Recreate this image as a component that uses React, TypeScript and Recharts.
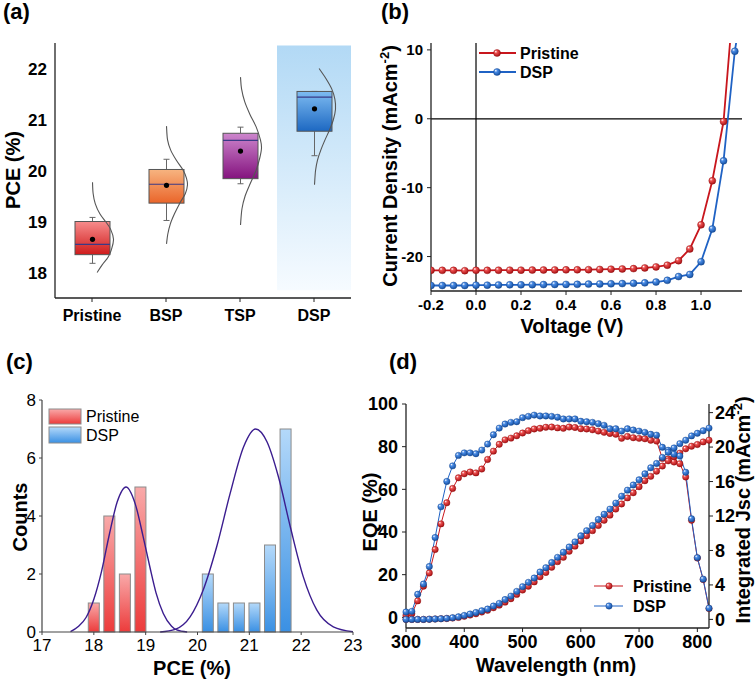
import React from "react";
import {
  Bar,
  ComposedChart,
  Line,
  LineChart,
  ReferenceArea,
  ReferenceLine,
  XAxis,
  YAxis,
} from "recharts";

const FONT = '"Liberation Sans", Arial, Helvetica, sans-serif';
const RED = "#c8161d";
const BLUE = "#1f62c4";

// ---------- (a) PCE statistics ----------
const groups = ["Pristine", "BSP", "TSP", "DSP"];
const boxLow = [18.35, 19.36, 19.84, 20.77];
const boxHigh = [19.0, 20.02, 20.73, 21.55];
const medians = [18.55, 19.73, 20.59, 21.44];
const means = [18.65, 19.71, 20.38, 21.21];
const whiskerLow = [18.18, 19.02, 19.74, 20.29];
const whiskerHigh = [19.08, 20.22, 20.85, 21.55];
// [PCE, relative density] of the distribution curve beside each box
const curvePristine = [[19.77, 0], [19.55, 0.03], [19.35, 0.13], [19.15, 0.35], [19.0, 0.62], [18.85, 0.86], [18.65, 1], [18.45, 0.9], [18.3, 0.74], [18.15, 0.46], [18.0, 0.22]];
const curveBsp = [[20.87, 0], [20.6, 0.05], [20.4, 0.2], [20.2, 0.47], [20.0, 0.8], [19.85, 0.95], [19.72, 1], [19.55, 0.9], [19.35, 0.62], [19.15, 0.38], [18.95, 0.18], [18.75, 0.06], [18.56, 0]];
const curveTsp = [[21.83, 0], [21.6, 0.05], [21.35, 0.2], [21.1, 0.45], [20.85, 0.75], [20.6, 0.95], [20.44, 1], [20.25, 0.92], [20.0, 0.74], [19.75, 0.47], [19.5, 0.22], [19.25, 0.07], [18.93, 0]];
const curveDsp = [[22.0, 0.22], [21.8, 0.55], [21.6, 0.82], [21.4, 0.97], [21.2, 1], [21.0, 0.9], [20.8, 0.72], [20.6, 0.5], [20.4, 0.3], [20.2, 0.14], [20.0, 0.05], [19.72, 0]];
const curves = [curvePristine, curveBsp, curveTsp, curveDsp];
const boxFills = ["url(#boxPristine)", "url(#boxBsp)", "url(#boxTsp)", "url(#boxDsp)"];

const boxRows = groups.map((name, i) => {
  const vals = [boxLow[i], boxHigh[i], whiskerLow[i], whiskerHigh[i], ...curves[i].map((c) => c[0])];
  return { name, i, range: [Math.min(...vals), Math.max(...vals)] };
});

// ---------- (b) J-V ----------
const voltage = [-0.2, -0.15, -0.1, -0.05, 0, 0.05, 0.1, 0.15, 0.2, 0.25, 0.3, 0.35, 0.4, 0.45, 0.5, 0.55, 0.6, 0.65, 0.7, 0.75, 0.8, 0.85, 0.9, 0.95, 1.0, 1.05, 1.1, 1.15];
const voltageDsp = [...voltage, 1.2];
const jPristine = [-22.0, -22.0, -22.0, -22.05, -22.0, -22.0, -21.98, -21.97, -21.97, -21.96, -21.95, -21.94, -21.93, -21.92, -21.9, -21.87, -21.83, -21.8, -21.75, -21.65, -21.5, -21.25, -20.6, -18.9, -15.4, -9.0, -0.4, 19.5];
const jDsp = [-24.2, -24.2, -24.2, -24.2, -24.15, -24.15, -24.12, -24.1, -24.1, -24.08, -24.07, -24.05, -24.04, -24.03, -24.0, -23.98, -23.95, -23.92, -23.88, -23.82, -23.7, -23.45, -22.9, -22.6, -20.75, -16.0, -6.1, 9.8, 20];

const jvPristine = voltage.map((v, i) => ({ v, j: jPristine[i] }));
const jvDsp = voltageDsp.map((v, i) => ({ v, j: jDsp[i] }));

// ---------- (c) PCE histogram ----------
const pristineBins = [18.0, 18.3, 18.6, 18.9];
const pristineCounts = [1, 4, 2, 5];
const dspBins = [20.2, 20.5, 20.8, 21.1, 21.4, 21.7];
const dspCounts = [2, 1, 1, 1, 3, 7];
const pristineFitX = [17.55, 17.7, 17.85, 18.0, 18.15, 18.3, 18.45, 18.62, 18.8, 18.95, 19.08, 19.2, 19.34, 19.5, 19.6, 19.8];
const pristineFitY = [0.01, 0.19, 0.5, 1.13, 2.1, 3.37, 4.48, 5.0, 4.41, 3.3, 2.25, 1.35, 0.64, 0.2, 0.07, 0.0];
const dspFitX = [19.28, 19.57, 19.86, 20.11, 20.37, 20.63, 20.89, 21.12, 21.34, 21.56, 21.79, 22.04, 22.3, 22.62, 23.0];
const dspFitY = [0, 0.09, 0.53, 1.45, 2.94, 4.78, 6.39, 7.0, 6.56, 5.36, 3.63, 1.91, 0.76, 0.18, 0.01];

const histRows = [
  ...pristineBins.map((pce, i) => ({ pce, count: pristineCounts[i], group: "Pristine" })),
  ...dspBins.map((pce, i) => ({ pce, count: dspCounts[i], group: "DSP" })),
];
const pristineFit = pristineFitX.map((pce, i) => ({ pce, count: pristineFitY[i] }));
const dspFit = dspFitX.map((pce, i) => ({ pce, count: dspFitY[i] }));

// ---------- (d) EQE + integrated Jsc ----------
const wavelength = [300, 310, 320, 330, 340, 350, 360, 370, 380, 390, 400, 410, 420, 430, 440, 450, 460, 470, 480, 490, 500, 510, 520, 530, 540, 550, 560, 570, 580, 590, 600, 610, 620, 630, 640, 650, 660, 670, 680, 690, 700, 710, 720, 730, 740, 750, 760, 770, 780, 790, 800, 810, 820];
const eqePristine = [1.0, 1.7, 7.7, 14.6, 20.8, 31.8, 43.8, 53.7, 60.4, 65.4, 67.3, 68.1, 67.7, 69.5, 74.0, 77.9, 81.1, 83.2, 84.0, 85.1, 86.4, 87.5, 88.3, 88.6, 89.1, 89.2, 88.8, 88.6, 89.2, 89.0, 88.4, 88.3, 87.9, 87.3, 86.7, 86.2, 85.8, 83.9, 84.8, 84.2, 83.9, 83.7, 83.0, 82.6, 74.5, 74.2, 72.8, 72.0, 65.8, 45.5, 27.8, 17.7, 4.1];
const eqeDsp = [2.5, 2.8, 10.8, 15.6, 23.8, 37.4, 51.8, 63.7, 71.0, 75.9, 77.1, 77.1, 76.7, 78.4, 81.2, 85.6, 88.7, 90.6, 91.4, 91.7, 93.6, 94.2, 94.8, 94.4, 94.4, 94.2, 93.8, 93.0, 93.0, 93.0, 91.9, 91.7, 91.4, 90.8, 90.0, 88.4, 88.4, 87.3, 88.4, 87.8, 87.3, 86.7, 85.8, 85.4, 79.7, 78.3, 76.5, 75.6, 68.0, 46.2, 28.0, 17.9, 4.3];
const jscPristine = [0, 0, 0, 0, 0.02, 0.04, 0.07, 0.1, 0.15, 0.23, 0.35, 0.5, 0.65, 0.85, 1.05, 1.35, 1.65, 2.0, 2.4, 2.9, 3.4, 3.85, 4.35, 4.95, 5.45, 6.05, 6.7, 7.2, 7.9, 8.5, 9.1, 9.7, 10.3, 10.9, 11.5, 12.1, 12.8, 13.4, 14.1, 14.7, 15.4, 16.1, 16.6, 17.2, 17.8, 18.4, 18.9, 19.3, 19.8, 20.1, 20.3, 20.6, 20.8];
const jscDsp = [0, 0, 0, 0, 0.02, 0.05, 0.08, 0.12, 0.2, 0.3, 0.46, 0.62, 0.8, 1.0, 1.2, 1.55, 1.86, 2.3, 2.7, 3.25, 3.8, 4.3, 4.8, 5.5, 6.0, 6.6, 7.2, 7.8, 8.4, 9.0, 9.7, 10.3, 10.9, 11.6, 12.2, 12.8, 13.5, 14.3, 15.0, 15.6, 16.2, 16.9, 17.6, 18.1, 18.8, 19.4, 19.9, 20.4, 20.8, 21.3, 21.6, 21.9, 22.2];

const eqeRows = wavelength.map((wl, i) => ({
  wl,
  eqeP: eqePristine[i],
  eqeD: eqeDsp[i],
  jscP: jscPristine[i],
  jscD: jscDsp[i],
}));

// ---------- helpers ----------
function smoothPath(pts: number[][]) {
  let d = `M${pts[0][0]},${pts[0][1]}`;
  for (let i = 0; i < pts.length - 1; i++) {
    const p0 = pts[i - 1] || pts[i];
    const p1 = pts[i];
    const p2 = pts[i + 1];
    const p3 = pts[i + 2] || p2;
    const c1x = p1[0] + (p2[0] - p0[0]) / 6;
    const c1y = p1[1] + (p2[1] - p0[1]) / 6;
    const c2x = p2[0] - (p3[0] - p1[0]) / 6;
    const c2y = p2[1] - (p3[1] - p1[1]) / 6;
    d += ` C${c1x},${c1y} ${c2x},${c2y} ${p2[0]},${p2[1]}`;
  }
  return d;
}

function BoxShape(props: any) {
  const { x, y, width, height, payload } = props;
  if (payload == null) return null;
  const i = payload.i;
  const [lo, hi] = payload.range;
  const top = Math.min(y, y + height);
  const h = Math.abs(height);
  const py = (v: number) => top + ((hi - v) / (hi - lo)) * h;
  const cx = x + width / 2;
  const pts = curves[i].map(([v, dens]) => [cx + dens * 21, py(v)]);
  const bTop = py(boxHigh[i]);
  const bBot = py(boxLow[i]);
  return (
    <g>
      <line x1={cx} x2={cx} y1={py(whiskerLow[i])} y2={bBot} stroke="#666" strokeWidth={1} />
      <line x1={cx} x2={cx} y1={py(whiskerHigh[i])} y2={bTop} stroke="#666" strokeWidth={1} />
      <line x1={cx - 3} x2={cx + 3} y1={py(whiskerLow[i])} y2={py(whiskerLow[i])} stroke="#666" strokeWidth={1} />
      <line x1={cx - 3} x2={cx + 3} y1={py(whiskerHigh[i])} y2={py(whiskerHigh[i])} stroke="#666" strokeWidth={1} />
      <rect x={x} y={bTop} width={width} height={bBot - bTop} fill={boxFills[i]} stroke="#555" strokeWidth={1} />
      <line x1={x} x2={x + width} y1={py(medians[i])} y2={py(medians[i])} stroke="#3a3a86" strokeWidth={1.2} />
      <circle cx={cx} cy={py(means[i])} r={2.6} fill="#000" />
      <path d={smoothPath(pts)} fill="none" stroke="#555" strokeWidth={1.1} />
    </g>
  );
}

// histogram bar: fixed 11px column centred on its bin
function HistBar(props: any) {
  const { x, y, width, height, payload } = props;
  if (payload == null || !height) return null;
  const cx = x + width / 2;
  const fill = payload.group === "Pristine" ? "url(#histRed)" : "url(#histBlue)";
  return <rect x={cx - 5.5} y={y} width={11} height={height} fill={fill} stroke="#8c8c8c" strokeWidth={1} />;
}

const sphereDot = (grad: string, edge: string, r: number) => (p: any) => {
  if (p.cx == null || p.cy == null) return <g key={`e-${p.index}`} />;
  return <circle key={`d-${p.index}`} cx={p.cx} cy={p.cy} r={r} fill={`url(#${grad})`} stroke={edge} strokeWidth={0.4} />;
};

const tickBold = (size: number) => ({ fill: "#000", fontSize: size, fontWeight: 700, fontFamily: FONT });
const axisStroke = { stroke: "#222", strokeWidth: 1.3 };

function Defs() {
  return (
    <svg width={0} height={0} style={{ position: "absolute" }}>
      <defs>
        <linearGradient id="boxPristine" x1="0" y1="0" x2="0" y2="1">
          <stop offset="0" stopColor="#f78c8c" />
          <stop offset="1" stopColor="#cf1b1b" />
        </linearGradient>
        <linearGradient id="boxBsp" x1="0" y1="0" x2="0" y2="1">
          <stop offset="0" stopColor="#f7b480" />
          <stop offset="1" stopColor="#ea652a" />
        </linearGradient>
        <linearGradient id="boxTsp" x1="0" y1="0" x2="0" y2="1">
          <stop offset="0" stopColor="#cd86cd" />
          <stop offset="1" stopColor="#84137e" />
        </linearGradient>
        <linearGradient id="boxDsp" x1="0" y1="0" x2="0" y2="1">
          <stop offset="0" stopColor="#7dbbf1" />
          <stop offset="1" stopColor="#1d68c2" />
        </linearGradient>
        <linearGradient id="dspBg" x1="0" y1="0" x2="0" y2="1">
          <stop offset="0" stopColor="#b2d9f5" />
          <stop offset="1" stopColor="#f6fbff" />
        </linearGradient>
        <linearGradient id="histRed" x1="0" y1="0" x2="0" y2="1">
          <stop offset="0" stopColor="#f9a9a9" />
          <stop offset="1" stopColor="#ec3b3b" />
        </linearGradient>
        <linearGradient id="histBlue" x1="0" y1="0" x2="0" y2="1">
          <stop offset="0" stopColor="#b4d9fa" />
          <stop offset="1" stopColor="#3a90e3" />
        </linearGradient>
        <radialGradient id="sRed" cx="0.38" cy="0.35" r="0.7" fx="0.32" fy="0.3">
          <stop offset="0" stopColor="#ffffff" />
          <stop offset="0.3" stopColor="#ee5050" />
          <stop offset="1" stopColor="#a30d10" />
        </radialGradient>
        <radialGradient id="sBlue" cx="0.38" cy="0.35" r="0.7" fx="0.32" fy="0.3">
          <stop offset="0" stopColor="#ffffff" />
          <stop offset="0.3" stopColor="#4a8ce6" />
          <stop offset="1" stopColor="#124c9c" />
        </radialGradient>
      </defs>
    </svg>
  );
}

function PanelA() {
  return (
    <div style={{ position: "absolute", left: 0, top: 0 }}>
      <ComposedChart width={378} height={330} data={boxRows} margin={{ top: 43, right: 27, left: 0, bottom: 0 }}>
        <ReferenceArea x1="DSP" x2="DSP" y1={17.65} y2={22.45} fill="url(#dspBg)" fillOpacity={1} stroke="none" />
        <XAxis dataKey="name" type="category" height={32} interval={0} tickSize={4} tickMargin={8}
          axisLine={axisStroke} tickLine={{ stroke: "#222" }} tick={tickBold(16)} />
        <XAxis xAxisId="top" dataKey="name" type="category" orientation="top" height={0} tick={false} tickLine={false} axisLine={axisStroke} />
        <YAxis type="number" domain={[17.5, 22.5]} ticks={[18, 19, 20, 21, 22]} width={55} tickLine={false}
          tickSize={6} tickMargin={2} axisLine={axisStroke} tick={tickBold(17)} />
        <YAxis yAxisId="right" orientation="right" type="number" domain={[0, 1]} width={0} tick={false} tickLine={false} axisLine={axisStroke} />
        <Bar dataKey="range" barSize={35} shape={BoxShape} isAnimationActive={false} />
      </ComposedChart>
    </div>
  );
}

function PanelB() {
  return (
    <div style={{ position: "absolute", left: 376, top: 0 }}>
      <LineChart width={380} height={330} margin={{ top: 43, right: 14, left: 0, bottom: 0 }}>
        <XAxis dataKey="v" type="number" domain={[-0.2, 1.182]} allowDataOverflow ticks={[-0.2, 0, 0.2, 0.4, 0.6, 0.8, 1.0]}
          tickFormatter={(v: number) => v.toFixed(1)} height={39} tickSize={4} tickMargin={4}
          axisLine={axisStroke} tickLine={{ stroke: "#222" }} tick={tickBold(15)} />
        <XAxis xAxisId="top" type="number" orientation="top" domain={[-0.2, 1.182]} height={0} tick={false} tickLine={false} axisLine={axisStroke} />
        <YAxis type="number" domain={[-25, 11]} allowDataOverflow ticks={[-20, -10, 0, 10]} width={55} tickSize={4} tickMargin={4}
          axisLine={axisStroke} tickLine={{ stroke: "#222" }} tick={tickBold(15)} />
        <YAxis yAxisId="right" orientation="right" type="number" domain={[0, 1]} width={0} tick={false} tickLine={false} axisLine={axisStroke} />
        <ReferenceLine x={0} stroke="#000" strokeWidth={1.2} />
        <ReferenceLine y={0} stroke="#000" strokeWidth={1.2} />
        <Line data={jvPristine} dataKey="j" type="linear" stroke={RED} strokeWidth={1.8}
          dot={sphereDot("sRed", "#8a0a0a", 3.5)} isAnimationActive={false} />
        <Line data={jvDsp} dataKey="j" type="linear" stroke={BLUE} strokeWidth={1.8}
          dot={sphereDot("sBlue", "#0e3f86", 3.5)} isAnimationActive={false} />
      </LineChart>
    </div>
  );
}

function PanelC() {
  return (
    <div style={{ position: "absolute", left: 0, top: 330 }}>
      <ComposedChart width={378} height={352} data={histRows} margin={{ top: 70, right: 25, left: 0, bottom: 0 }}>
        <XAxis dataKey="pce" type="number" domain={[17, 23]} ticks={[17, 18, 19, 20, 21, 22, 23]} height={50}
          tickSize={3} tickMargin={4} axisLine={{ stroke: "#444", strokeWidth: 1.2 }} tickLine={{ stroke: "#444" }}
          tick={{ fill: "#000", fontSize: 17, fontFamily: FONT }} />
        <XAxis xAxisId="top" type="number" orientation="top" domain={[17, 23]} height={0} tick={false} tickLine={false}
          axisLine={{ stroke: "#444", strokeWidth: 1.2 }} />
        <YAxis type="number" domain={[0, 8]} ticks={[0, 2, 4, 6, 8]} width={42} tickSize={3} tickMargin={3}
          axisLine={{ stroke: "#444", strokeWidth: 1.2 }} tickLine={{ stroke: "#444" }}
          tick={{ fill: "#000", fontSize: 17, fontFamily: FONT }} />
        <YAxis yAxisId="right" orientation="right" type="number" domain={[0, 1]} width={0} tick={false} tickLine={false}
          axisLine={{ stroke: "#444", strokeWidth: 1.2 }} />
        <Bar dataKey="count" barSize={11} shape={HistBar} isAnimationActive={false} />
        <Line data={pristineFit} dataKey="count" type="monotone" stroke="#3b1d8f" strokeWidth={1.4} dot={false} isAnimationActive={false} />
        <Line data={dspFit} dataKey="count" type="monotone" stroke="#3b1d8f" strokeWidth={1.4} dot={false} isAnimationActive={false} />
      </ComposedChart>
    </div>
  );
}

function PanelD() {
  return (
    <div style={{ position: "absolute", left: 356, top: 330 }}>
      <LineChart width={400} height={352} data={eqeRows} margin={{ top: 74, right: 0, left: 0, bottom: 0 }}>
        <XAxis dataKey="wl" type="number" domain={[300, 820]} ticks={[300, 400, 500, 600, 700, 800]} height={54}
          tickSize={4} tickMargin={3} axisLine={axisStroke} tickLine={{ stroke: "#222" }} tick={tickBold(18)} />
        <XAxis xAxisId="top" type="number" orientation="top" domain={[300, 820]} height={0} tick={false} tickLine={false} axisLine={axisStroke} />
        <YAxis yAxisId="l" type="number" domain={[-5, 100]} ticks={[0, 20, 40, 60, 80, 100]} width={50} tickSize={4} tickMargin={4}
          axisLine={axisStroke} tickLine={{ stroke: "#222" }} tick={tickBold(18)} />
        <YAxis yAxisId="r" orientation="right" type="number" domain={[-1, 25]} ticks={[0, 4, 8, 12, 16, 20, 24]} width={47}
          tickSize={4} tickMargin={2} axisLine={axisStroke} tickLine={{ stroke: "#222" }} tick={tickBold(18)} />
        <Line yAxisId="l" dataKey="eqeP" stroke={RED} strokeWidth={1} dot={sphereDot("sRed", "#8a0a0a", 3.2)} isAnimationActive={false} />
        <Line yAxisId="r" dataKey="jscP" stroke={RED} strokeWidth={1} dot={sphereDot("sRed", "#8a0a0a", 3.2)} isAnimationActive={false} />
        <Line yAxisId="l" dataKey="eqeD" stroke={BLUE} strokeWidth={1} dot={sphereDot("sBlue", "#0e3f86", 3.2)} isAnimationActive={false} />
        <Line yAxisId="r" dataKey="jscD" stroke={BLUE} strokeWidth={1} dot={sphereDot("sBlue", "#0e3f86", 3.2)} isAnimationActive={false} />
      </LineChart>
    </div>
  );
}

function Overlay() {
  const bold = { fontWeight: 700, fill: "#000" } as const;
  return (
    <svg width={756} height={682} style={{ position: "absolute", left: 0, top: 0, pointerEvents: "none" }} fontFamily={FONT}>
      <text x={3} y={19} fontSize={22} {...bold}>(a)</text>
      <text x={381} y={19} fontSize={22} {...bold}>(b)</text>
      <text x={6} y={369} fontSize={22} {...bold}>(c)</text>
      <text x={389} y={369} fontSize={22} {...bold}>(d)</text>

      <text transform="translate(20,170) rotate(-90)" textAnchor="middle" fontSize={20} {...bold}>PCE (%)</text>

      <text transform="translate(397,166) rotate(-90)" textAnchor="middle" fontSize={20} {...bold}>
        Current Density (mAcm<tspan dy={-8} fontSize={13}>-2</tspan><tspan dy={8}>)</tspan>
      </text>
      <text x={572} y={333} textAnchor="middle" fontSize={20} {...bold}>Voltage (V)</text>

      <text transform="translate(27,517) rotate(-90)" textAnchor="middle" fontSize={20} {...bold}>Counts</text>
      <text x={192} y={675} textAnchor="middle" fontSize={20} {...bold}>PCE (%)</text>

      <text transform="translate(377,512) rotate(-90)" textAnchor="middle" fontSize={20} {...bold}>EQE (%)</text>
      <text x={556} y={672} textAnchor="middle" fontSize={20} {...bold}>Wavelength (nm)</text>
      <text transform="translate(750,510) rotate(-90)" textAnchor="middle" fontSize={20} {...bold}>
        Integrated Jsc (mAcm<tspan dy={-8} fontSize={13}>-2</tspan><tspan dy={8}>)</tspan>
      </text>

      {/* legend (b) */}
      <line x1={479} x2={516} y1={53} y2={53} stroke={RED} strokeWidth={1.8} />
      <circle cx={497} cy={53} r={3.5} fill="url(#sRed)" stroke="#8a0a0a" strokeWidth={0.4} />
      <text x={520} y={59} fontSize={16} {...bold}>Pristine</text>
      <line x1={479} x2={516} y1={72} y2={72} stroke={BLUE} strokeWidth={1.8} />
      <circle cx={497} cy={72} r={3.5} fill="url(#sBlue)" stroke="#0e3f86" strokeWidth={0.4} />
      <text x={520} y={78} fontSize={16} {...bold}>DSP</text>

      {/* legend (c) */}
      <rect x={49} y={409} width={32} height={15} fill="url(#histRed)" stroke="#8c8c8c" />
      <text x={86} y={422} fontSize={16} fill="#000">Pristine</text>
      <rect x={49} y={427} width={32} height={16} fill="url(#histBlue)" stroke="#8c8c8c" />
      <text x={86} y={441} fontSize={16} fill="#000">DSP</text>

      {/* legend (d) */}
      <line x1={594} x2={623} y1={586} y2={586} stroke={RED} strokeWidth={1} />
      <circle cx={609} cy={586} r={3.2} fill="url(#sRed)" stroke="#8a0a0a" strokeWidth={0.4} />
      <text x={633} y={592} fontSize={16} {...bold}>Pristine</text>
      <line x1={594} x2={623} y1={606} y2={606} stroke={BLUE} strokeWidth={1} />
      <circle cx={609} cy={606} r={3.2} fill="url(#sBlue)" stroke="#0e3f86" strokeWidth={0.4} />
      <text x={633} y={612} fontSize={16} {...bold}>DSP</text>
    </svg>
  );
}

export default function App() {
  return (
    <div style={{ position: "absolute", left: 0, top: 0, width: 756, height: 682, background: "#fff", fontFamily: FONT }}>
      <Defs />
      <PanelA />
      <PanelB />
      <PanelC />
      <PanelD />
      <Overlay />
    </div>
  );
}
